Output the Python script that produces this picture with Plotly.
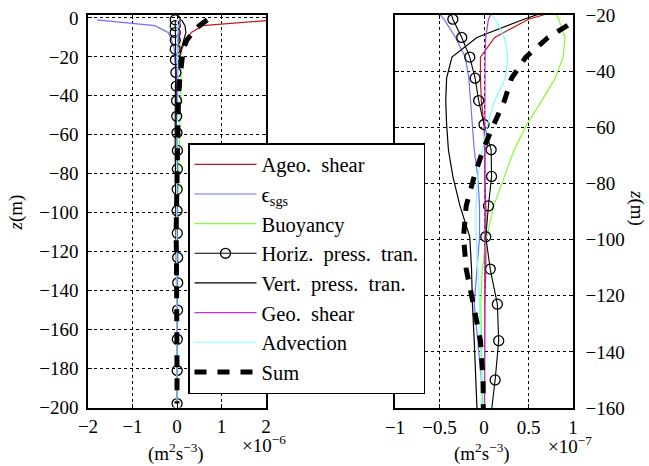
import numpy as np
import plotly.graph_objects as go

# depth levels (m)
z = [-1, -4, -7.5, -11.5, -16, -21.5, -28, -35, -42.5, -50.5, -59, -68, -77.5,
     -88, -99, -110.5, -123, -136, -150, -165, -181, -198]

# TKE budget terms, in units of 1e-7 m^2 s^-3
ageo_shear = [22, 5.8, 3.2, 2.0, 1.1, 0.5, 0.12, -0.04, -0.04, -0.03, 0.0, 0.01, 0.01,
              0.02, 0.02, 0.02, 0.01, 0.01, 0.01, 0.0, 0.0, 0.0]
eps_sgs = [-18, -5.0, -2.0, -1.2, -0.6, -0.45, -0.32, -0.21, -0.17, -0.15, -0.13, -0.11, -0.07,
           -0.05, -0.05, -0.08, -0.11, -0.07, -0.03, -0.02, -0.01, -0.01]
buoyancy = [0.2, 0.4, 0.55, 0.65, 0.75, 0.84, 0.91, 0.89, 0.80, 0.65, 0.48, 0.34, 0.23,
            0.11, 0.03, -0.02, -0.035, -0.03, -0.02, -0.015, -0.01, 0.0]
horiz_press = [-0.4, -0.4, -0.4, -0.4, -0.4, -0.35, -0.25, -0.16, -0.10, -0.06, 0.0, 0.08, 0.085,
               0.05, 0.02, 0.07, 0.15, 0.165, 0.125, 0.07, 0.04, 0.02]
vert_press = [1.0, 1.8, 2.0, 1.5, 0.95, 0.45, -0.08, -0.36, -0.42, -0.43, -0.42, -0.40, -0.35,
              -0.27, -0.16, -0.14, -0.13, -0.11, -0.09, -0.07, -0.05, -0.03]
geo_shear = [0.6, 0.5, 0.35, 0.25, 0.14, 0.05, 0.02, 0.012, 0.01, 0.01, 0.01, 0.01, 0.01,
             0.01, 0.01, 0.01, 0.01, 0.01, 0.01, 0.005, 0.005, 0.0]
advection = [0.1, 0.05, 0.0, -0.02, -0.02, 0.13, 0.23, 0.27, 0.24, 0.12, 0.04, -0.02, -0.07,
             -0.09, -0.09, -0.07, -0.05, -0.04, -0.03, -0.02, -0.01, 0.0]
total = [6.8, 5.0, 3.5, 2.2, 1.4, 1.05, 0.72, 0.47, 0.31, 0.23, 0.11, -0.01, -0.11,
         -0.20, -0.23, -0.20, -0.12, -0.04, -0.01, 0.0, 0.0, 0.0]
UNIT = 1e-7

names = ["Ageo.  shear", "ϵ<sub>sgs</sub>", "Buoyancy", "Horiz.  press.  tran.",
         "Vert.  press.  tran.", "Geo.  shear", "Advection", "Sum"]
series = [ageo_shear, eps_sgs, buoyancy, horiz_press, vert_press, geo_shear, advection, total]
colors = ["#c21a1a", "#6f6fff", "#7dff2e", "black", "black", "#c030e0", "#7fffff", "black"]

left_xticks = [-2, -1, 0, 1, 2]
right_xticks = [-1, -0.5, 0, 0.5, 1]
FONT = "Liberation Serif, Times New Roman, Times, serif"

fig = go.Figure()
for panel, (xa, ya) in enumerate([("x", "y"), ("x2", "y2")]):
    for i, (nm, vals, col) in enumerate(zip(names, series, colors)):
        x = np.array(vals) * UNIT
        kw = dict(x=x, y=z, name=nm, xaxis=xa, yaxis=ya, showlegend=(panel == 0),
                  legendgroup=f"g{i}", cliponaxis=True)
        if i == 3:
            kw.update(mode="lines+markers", line=dict(color=col, width=1.1),
                      marker=dict(symbol="circle-open", size=10, color="black",
                                  line=dict(width=1.3, color="black")))
        elif i == 7:
            kw.update(mode="lines", line=dict(color=col, width=5, dash="12px,11px"))
        else:
            kw.update(mode="lines", line=dict(color=col, width=1.2))
        fig.add_trace(go.Scatter(**kw))

W, H = 649, 466
axis_common = dict(showgrid=True, gridcolor="black", gridwidth=1, griddash="3px,3px",
                   showline=True, linecolor="black", linewidth=1.5, mirror="ticks",
                   ticks="inside", ticklen=4, tickcolor="black", zeroline=False,
                   tickfont=dict(family=FONT, size=19, color="black"), automargin=False)

fig.update_layout(
    width=W, height=H, template="none",
    margin=dict(l=0, r=0, t=0, b=0),
    paper_bgcolor="white", plot_bgcolor="white",
    font=dict(family=FONT, size=19, color="black"),
    xaxis=dict(domain=[88 / W, 266 / W], range=[-2e-6, 2e-6],
               tickvals=[v * 1e-6 for v in left_xticks],
               ticktext=[str(v).replace("-", "−") for v in left_xticks],
               anchor="y", ticklabelstandoff=1, **axis_common),
    yaxis=dict(domain=[1 - 407.5 / H, 1 - 15 / H], range=[-200, 1.5], dtick=20,
               anchor="x", ticklabelstandoff=4, **axis_common),
    xaxis2=dict(domain=[395 / W, 573 / W], range=[-1e-7, 1e-7],
                tickvals=[v * 1e-7 for v in right_xticks],
                ticktext=[str(v).replace("-", "−") for v in right_xticks],
                anchor="y2", ticklabelstandoff=1, **axis_common),
    yaxis2=dict(domain=[1 - 408 / H, 1 - 15 / H], range=[-160, -20], dtick=20,
                anchor="x2", side="right", ticklabelstandoff=7, **axis_common),
    legend=dict(x=188 / W, y=1 - 143 / H, xanchor="left", yanchor="top",
                bgcolor="white", bordercolor="black", borderwidth=1.5,
                font=dict(family=FONT, size=20.5, color="black"),
                itemwidth=62, tracegroupgap=10, traceorder="normal"),
)

def ann(text, x, y, angle=0, size=19):
    fig.add_annotation(text=text, x=x / W, y=1 - y / H, xref="paper", yref="paper",
                       showarrow=False, textangle=angle, xanchor="center", yanchor="middle",
                       font=dict(family=FONT, size=size, color="black"))

ann("<i>z</i>(m)", 15.5, 213, angle=-90)
ann("<i>z</i>(m)", 637, 208, angle=90)
ann("(m<sup>2</sup>s<sup>−3</sup>)", 176, 452)
ann("×10<sup>−6</sup>", 264, 444)
ann("(m<sup>2</sup>s<sup>−3</sup>)", 482, 452)
ann("×10<sup>−7</sup>", 570, 445)

fig.write_html("out.html")
